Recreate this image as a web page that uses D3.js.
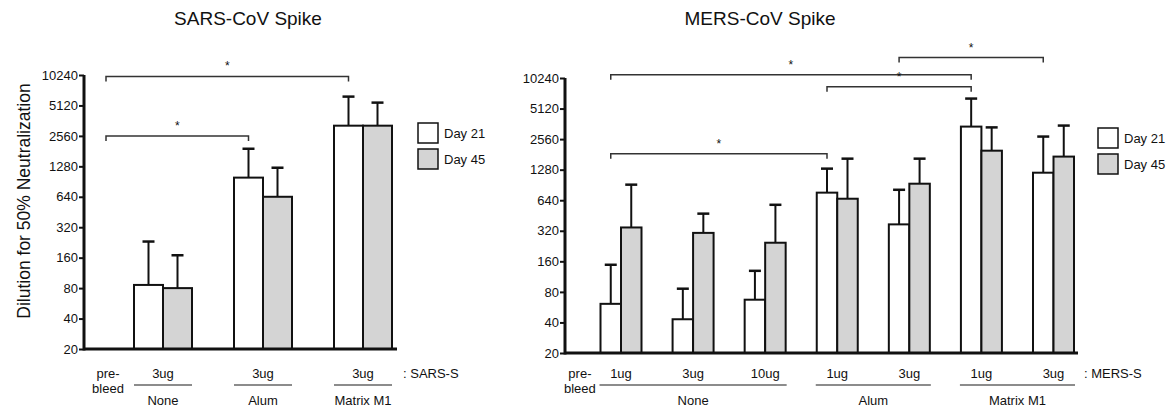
<!DOCTYPE html>
<html lang="en">
<head>
<meta charset="utf-8">
<title>SARS / MERS spike neutralization</title>
<script src="https://d3js.org/d3.v7.min.js"></script>
<style type="text/css">
    body { margin: 0; background: #fff; }
    svg text { font-family: "Liberation Sans", Arial, sans-serif; fill: #111; }
    .tick text { font-size: 13px; }
    .tick line { stroke: #111; stroke-width: 2; }
</style>
</head>
<body>
<script>
// values (reciprocal dilution titres)
var yTicks = [20, 40, 80, 160, 320, 640, 1280, 2560, 5120, 10240];
var seriesNames = ["Day 21", "Day 45"];

var sarsAdjuvants = ["None", "Alum", "Matrix M1"];
var sarsDoses = ["3ug", "3ug", "3ug"];
var sarsDay21 = [86, 990, 3230];
var sarsDay21Err = [231, 1910, 6260];
var sarsDay45 = [80, 640, 3230];
var sarsDay45Err = [169, 1240, 5460];

var mersAdjuvants = ["None", "None", "None", "Alum", "Alum", "Matrix M1", "Matrix M1"];
var mersDoses = ["1ug", "3ug", "10ug", "1ug", "3ug", "1ug", "3ug"];
var mersDay21 = [61, 43, 67, 760, 370, 3400, 1195];
var mersDay21Err = [148, 86, 129, 1310, 811, 6420, 2712];
var mersDay45 = [345, 305, 244, 662, 931, 1969, 1722];
var mersDay45Err = [911, 472, 577, 1643, 1643, 3340, 3480];

// significance brackets: from/to = group index ("pre" = pre-bleed), level = titre height
var sarsSig = [{from: "pre", to: 2, level: 9900}, {from: "pre", to: 1, level: 2560}];
var mersSig = [{from: 0, to: 5, level: 11000}, {from: 3, to: 5, level: 8400},
               {from: 4, to: 6, level: 16300}, {from: 0, to: 3, level: 1840}];

var svg = d3.select("body").append("svg")
    .attr("width", 1172)
    .attr("height", 410);

function panel(o) {
    var g = svg.append("g");
    var y = d3.scaleLog().base(2).domain([20, 10240]).range([o.bottom, o.top]);
    var x = d3.scaleLinear().domain([0, o.doses.length - 1]).range([o.first, o.last]);
    var inner = d3.scaleBand().domain(seriesNames).range([-o.barW, o.barW]);

    var rows = [];
    o.doses.forEach(function(d, i) {
        rows.push({i: i, s: "Day 21", v: o.d21[i], e: o.e21[i]});
        rows.push({i: i, s: "Day 45", v: o.d45[i], e: o.e45[i]});
    });
    function bx(d) { return x(d.i) + inner(d.s); }

    // error bars (upper only)
    var eb = g.selectAll(".err").data(rows).enter().append("g");
    eb.append("line")
        .attr("x1", function(d) { return bx(d) + o.barW / 2; })
        .attr("x2", function(d) { return bx(d) + o.barW / 2; })
        .attr("y1", function(d) { return y(d.v); })
        .attr("y2", function(d) { return y(d.e); })
        .attr("stroke", "#111").attr("stroke-width", 2);
    eb.append("line")
        .attr("x1", function(d) { return bx(d) + o.barW / 2 - 6; })
        .attr("x2", function(d) { return bx(d) + o.barW / 2 + 6; })
        .attr("y1", function(d) { return y(d.e); })
        .attr("y2", function(d) { return y(d.e); })
        .attr("stroke", "#111").attr("stroke-width", 2.5);

    g.selectAll(".bar").data(rows).enter().append("rect")
        .attr("x", bx)
        .attr("y", function(d) { return y(d.v); })
        .attr("width", o.barW)
        .attr("height", function(d) { return o.bottom - y(d.v); })
        .attr("fill", function(d) { return d.s == "Day 21" ? "#fff" : "#d4d4d4"; })
        .attr("stroke", "#111").attr("stroke-width", 2);

    // axes
    g.append("g")
        .attr("transform", "translate(" + o.axisX + ",0)")
        .call(d3.axisLeft(y).tickValues(yTicks).tickFormat(d3.format("d")).tickSize(5).tickSizeOuter(0))
        .call(function(a) { a.select(".domain").remove(); a.selectAll(".tick text").attr("x", -6); });
    g.append("line").attr("x1", o.axisX).attr("x2", o.axisX)
        .attr("y1", o.top).attr("y2", o.bottom + 1.5)
        .attr("stroke", "#111").attr("stroke-width", 3);
    g.append("line").attr("x1", o.axisX).attr("x2", o.axisEnd)
        .attr("y1", o.bottom).attr("y2", o.bottom)
        .attr("stroke", "#111").attr("stroke-width", 3);

    // dose labels
    g.selectAll(".dose").data(o.doses).enter().append("text")
        .attr("x", function(d, i) { return x(i); })
        .attr("y", 378)
        .attr("text-anchor", "middle")
        .style("font-size", "13px")
        .text(function(d) { return d; });
    var pre = x(o.preAt);
    g.append("text").attr("x", pre).attr("y", 378).attr("text-anchor", "middle")
        .style("font-size", "13px").text("pre-");
    g.append("text").attr("x", pre).attr("y", 393).attr("text-anchor", "middle")
        .style("font-size", "13px").text("bleed");
    g.append("text").attr("x", o.axisEnd + 6).attr("y", 378)
        .style("font-size", "13px").text(": " + o.antigen);

    // adjuvant groups (runs of equal names)
    var runs = [];
    o.adjuvants.forEach(function(a, i) {
        if (runs.length && runs[runs.length - 1].name == a) runs[runs.length - 1].end = i;
        else runs.push({name: a, start: i, end: i});
    });
    runs.forEach(function(r) {
        var x0 = x(r.start) - o.barW - o.runPad, x1 = x(r.end) + o.barW + o.runPad;
        g.append("line").attr("x1", x0).attr("x2", x1).attr("y1", 385).attr("y2", 385)
            .attr("stroke", "#666").attr("stroke-width", 1.5);
        g.append("text").attr("x", (x0 + x1) / 2).attr("y", 405).attr("text-anchor", "middle")
            .style("font-size", "13px").text(r.name);
    });

    // significance brackets to the Day 21 bar
    function sx(k) { return k === "pre" ? pre - 2 : x(k) - o.barW / 2; }
    o.sig.forEach(function(s) {
        var yy = y(s.level), a = sx(s.from), b = sx(s.to);
        g.append("path")
            .attr("d", "M" + a + "," + (yy + 5) + "V" + yy + "H" + b + "V" + (yy + 5))
            .attr("fill", "none").attr("stroke", "#333").attr("stroke-width", 1.5);
        g.append("text").attr("x", (a + b) / 2).attr("y", yy - 6).attr("text-anchor", "middle")
            .style("font-size", "12px").text("*");
    });

    // legend
    seriesNames.forEach(function(s, i) {
        var ly = o.legendY + i * 26;
        g.append("rect").attr("x", o.legendX).attr("y", ly).attr("width", 20).attr("height", 20)
            .attr("fill", i == 0 ? "#fff" : "#d4d4d4").attr("stroke", "#111").attr("stroke-width", 1.5);
        g.append("text").attr("x", o.legendX + 26).attr("y", ly + 15)
            .style("font-size", "13px").text(s);
    });

    g.append("text").attr("x", o.titleX).attr("y", 25).attr("text-anchor", "middle")
        .style("font-size", "19px").text(o.title);
}

panel({
    title: "SARS-CoV Spike", titleX: 248, antigen: "SARS-S",
    adjuvants: sarsAdjuvants, doses: sarsDoses,
    d21: sarsDay21, e21: sarsDay21Err, d45: sarsDay45, e45: sarsDay45Err, sig: sarsSig,
    top: 75, bottom: 349, axisX: 84, axisEnd: 397,
    first: 163, last: 363, barW: 29, preAt: -0.55, runPad: 0,
    legendX: 418, legendY: 123
});

panel({
    title: "MERS-CoV Spike", titleX: 760, antigen: "MERS-S",
    adjuvants: mersAdjuvants, doses: mersDoses,
    d21: mersDay21, e21: mersDay21Err, d45: mersDay45, e45: mersDay45Err, sig: mersSig,
    top: 78, bottom: 353, axisX: 565, axisEnd: 1078,
    first: 621, last: 1053.5, barW: 20.5, preAt: -0.57, runPad: 1,
    legendX: 1098, legendY: 128
});

// shared y label on the left
svg.append("text")
    .attr("transform", "translate(30,201) rotate(-90)")
    .attr("text-anchor", "middle")
    .style("font-size", "17.5px")
    .text("Dilution for 50% Neutralization");
</script>
</body>
</html>
